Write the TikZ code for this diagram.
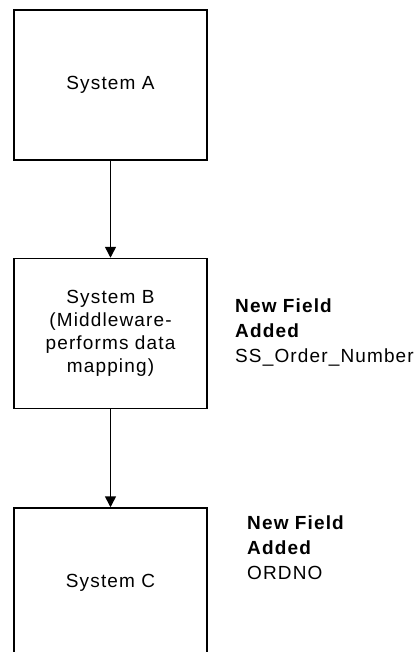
\documentclass[tikz,border=0pt]{standalone}
\usepackage{fontspec}
\setmainfont{Liberation Sans}[LetterSpace=6]
\usetikzlibrary{arrows.meta}

\begin{document}
\begin{tikzpicture}[x=1pt,y=-1pt,
      sysbox/.style={draw,line width=1.5pt,minimum width=193pt,minimum height=150pt,
        inner sep=0pt,align=center,font=\fontsize{19}{23}\selectfont},
      flow/.style={line width=1.5pt,-{Triangle[width=11pt,length=11pt]}},
      fieldnote/.style={anchor=base west,inner sep=0pt,align=left,
        font=\fontsize{19}{25}\selectfont}]
      \useasboundingbox (0,0) rectangle (419,652);
      %systems
      \node[sysbox] (sysA) at (110.5,85) {System A};
      \node[sysbox] (sysB) at (110.5,333.5) {System B\\(Middleware-\\performs data\\mapping)};
      \node[sysbox] (sysC) at (110.5,583) {System C};
      %flow
      \draw[flow] (sysA) -- (sysB);
      \draw[flow] (sysB) -- (sysC);
      %new fields
      \node[fieldnote] (fieldB) at (235,362) {\textbf{New Field}\\\textbf{Added}\\SS\_Order\_Number};
      \node[fieldnote] (fieldC) at (247,579) {\textbf{New Field}\\\textbf{Added}\\ORDNO};
    \end{tikzpicture}
\end{document}
